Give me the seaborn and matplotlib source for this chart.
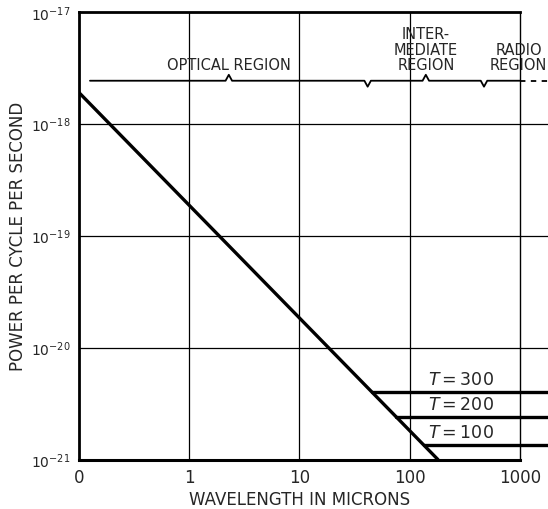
import numpy as np
import matplotlib
matplotlib.use('Agg')
import matplotlib.pyplot as plt
import seaborn as sns

# values
wavelength = [0.1, 180]          # microns, ends of the diagonal
power = [1.9e-18, 1.0e-21]       # power per cycle per second
temps = [300, 200, 100]
t_level = [4.0e-21, 2.4e-21, 1.35e-21]
x_ticks = [0.1, 1, 10, 100, 1000]
x_tick_labels = ['0', '1', '10', '100', '1000']
y_ticks = [1e-21, 1e-20, 1e-19, 1e-18, 1e-17]
y_tick_labels = [r'$10^{-21}$', r'$10^{-20}$', r'$10^{-19}$', r'$10^{-18}$', r'$10^{-17}$']
region_labels = ['OPTICAL REGION', 'INTER-\nMEDIATE\nREGION', 'RADIO\nREGION']
region_edges = [0.126, 41.5, 471, 2000]
brace_level = 2.42e-18
x_far = 2000        # lines run past the right border to the page edge
t_label_x = 290

sns.set_theme(style='white')
plt.rcParams['font.family'] = ['DejaVu Sans']
plt.rcParams['mathtext.fontset'] = 'dejavusans'

fig = plt.figure(figsize=(5.48, 5.10), dpi=100)
ax = fig.add_axes([0.144, 0.097, 0.805, 0.878])
ax.set_xscale('log')
ax.set_yscale('log')
ax.set_xlim(0.1, 1000)
ax.set_ylim(1e-21, 1e-17)

# grid: verticals inside the box, horizontals run out to the page edge
for xv in x_ticks[1:-1]:
    ax.plot([xv, xv], [1e-21, 1e-17], color='black', lw=0.9, zorder=1)
for yv in y_ticks[1:-1]:
    ax.plot([0.1, x_far], [yv, yv], color='black', lw=0.9, zorder=1, clip_on=False)

# the falling line
sns.lineplot(x=wavelength, y=power, ax=ax, color='black', lw=2.4, zorder=3)

# horizontal T lines, starting where they meet the diagonal
lx0, lx1 = np.log10(wavelength)
ly0, ly1 = np.log10(power)
for t, lvl in zip(temps, t_level):
    xs = 10 ** (lx0 + (np.log10(lvl) - ly0) * (lx1 - lx0) / (ly1 - ly0))
    sns.lineplot(x=[xs, x_far], y=[lvl, lvl], ax=ax, color='black', lw=2.4,
                 zorder=3, clip_on=False)
    ax.annotate(rf'$T = {t}$', xy=(t_label_x, lvl), xytext=(0, 3),
                textcoords='offset points', ha='center', va='bottom', fontsize=12.5)

# braces over the regions
k = 1.07
up = 1.13
bx, by = [], []
centers = [np.sqrt(region_edges[i] * region_edges[i + 1]) for i in range(3)]
for i in range(2):
    e0, e1, c = region_edges[i], region_edges[i + 1], centers[i]
    if i == 0:
        bx += [e0]
        by += [brace_level]
    bx += [c / k, c, c * k, e1 / k, e1, e1 * k]
    by += [brace_level, brace_level * up, brace_level,
           brace_level, brace_level / up, brace_level]
bx += [1000]
by += [brace_level]
ax.plot(bx, by, color='black', lw=1.3, zorder=3)
ax.plot([1000, x_far], [brace_level, brace_level], color='black', lw=1.3,
        ls=(0, (3, 3)), clip_on=False)
for lab, c in zip(region_labels, centers):
    ax.annotate(lab, xy=(c, brace_level), xytext=(0, 6), textcoords='offset points',
                ha='center', va='bottom', fontsize=10.5, linespacing=1.05,
                clip_on=False)

ax.set_xticks(x_ticks)
ax.set_xticklabels(x_tick_labels, fontsize=12)
ax.set_yticks(y_ticks)
ax.set_yticklabels(y_tick_labels, fontsize=10)
ax.minorticks_off()
ax.tick_params(length=0)
ax.tick_params(axis='x', pad=6)
ax.tick_params(axis='y', pad=6)

for side, lw in [('left', 2.0), ('bottom', 2.2), ('top', 2.0), ('right', 1.0)]:
    ax.spines[side].set_color('black')
    ax.spines[side].set_linewidth(lw)

ax.set_xlabel('WAVELENGTH IN MICRONS', fontsize=12)
ax.set_ylabel('POWER PER CYCLE PER SECOND', fontsize=12)
ax.xaxis.set_label_coords(0.5, -0.068)
ax.yaxis.set_label_coords(-0.117, 0.5)

fig.savefig('out.png', dpi=100)
